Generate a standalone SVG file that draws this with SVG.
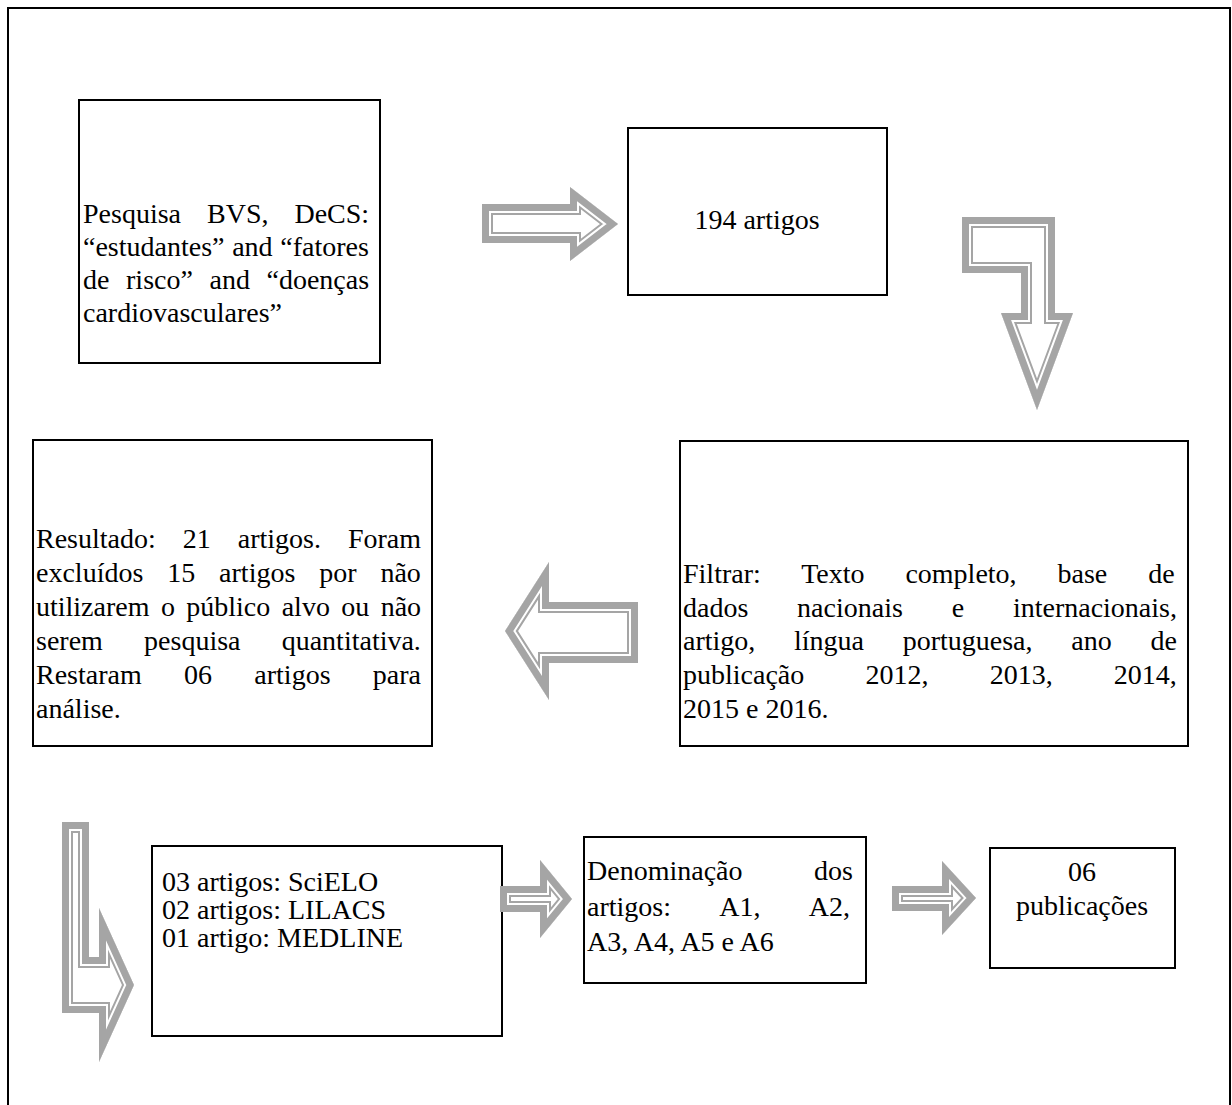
<svg xmlns="http://www.w3.org/2000/svg" xmlns:xlink="http://www.w3.org/1999/xlink" width="1232" height="1105" viewBox="0 0 1232 1105">
<style>
.box{fill:#fff;stroke:#000;stroke-width:2}
.t{font-family:"Liberation Serif","Times New Roman",serif;font-size:28px;fill:#000}
.c{text-anchor:middle}
.af{fill:#fff;stroke:#a5a5a5;stroke-width:22;stroke-linejoin:miter;stroke-miterlimit:20}
.am{fill:none;stroke:#fff;stroke-width:18;stroke-linejoin:miter;stroke-miterlimit:20}
.ao{fill:none;stroke:#a5a5a5;stroke-width:14;stroke-linejoin:miter;stroke-miterlimit:20}
</style>
<defs>
<polygon id="a1" points="482,204 570,204 570,187 618,224 570,261 570,243 482,243"/>
<polygon id="a2" points="962,217 1055,217 1055,313 1073,313 1037,410 1001,313 1021,313 1021,273 962,273"/>
<polygon id="a3" points="505,631 549,562 549,602 638,602 638,663 549,663 549,700"/>
<polygon id="a4" points="62,822 89,822 89,957 99,957 99,908 134,985 99,1062 99,1013 62,1013"/>
<polygon id="a5" points="500,886 540,886 540,860 572,899 540,938 540,912 500,912"/>
<polygon id="a6" points="892,886 942,886 942,861 976,898 942,935 942,911 892,911"/>
<clipPath id="c1"><use xlink:href="#a1"/></clipPath>
<clipPath id="c2"><use xlink:href="#a2"/></clipPath>
<clipPath id="c3"><use xlink:href="#a3"/></clipPath>
<clipPath id="c4"><use xlink:href="#a4"/></clipPath>
<clipPath id="c5"><use xlink:href="#a5"/></clipPath>
<clipPath id="c6"><use xlink:href="#a6"/></clipPath>
</defs>
<rect width="1232" height="1105" fill="#fff"/>
<path d="M8,1110 V8 H1230 V1110" fill="none" stroke="#000" stroke-width="2"/>

<g id="box1">
<rect class="box" x="79" y="100" width="301" height="263"/>
<text class="t" x="83" y="223" word-spacing="19">Pesquisa BVS, DeCS:</text>
<text class="t" x="83" y="256" word-spacing="0.7">“estudantes” and “fatores</text>
<text class="t" x="83" y="289" word-spacing="9.6">de risco” and “doenças</text>
<text class="t" x="83" y="322">cardiovasculares”</text>
</g>

<g id="box2">
<rect class="box" x="628" y="128" width="259" height="167"/>
<text class="t c" x="757" y="229">194 artigos</text>
</g>

<g id="box3">
<rect class="box" x="680" y="441" width="508" height="305"/>
<text class="t" x="683" y="583" word-spacing="33.9">Filtrar: Texto completo, base de</text>
<text class="t" x="683" y="617" word-spacing="41.8">dados nacionais e internacionais,</text>
<text class="t" x="683" y="650" word-spacing="31.7">artigo, língua portuguesa, ano de</text>
<text class="t" x="683" y="684" word-spacing="54.2">publicação 2012, 2013, 2014,</text>
<text class="t" x="683" y="718">2015 e 2016.</text>
</g>

<g id="box4">
<rect class="box" x="33" y="440" width="399" height="306"/>
<text class="t" x="36" y="548" word-spacing="20">Resultado: 21 artigos. Foram</text>
<text class="t" x="36" y="582" word-spacing="16.9">excluídos 15 artigos por não</text>
<text class="t" x="36" y="616" word-spacing="4.4">utilizarem o público alvo ou não</text>
<text class="t" x="36" y="650" word-spacing="34.2">serem pesquisa quantitativa.</text>
<text class="t" x="36" y="684" word-spacing="35.3">Restaram 06 artigos para</text>
<text class="t" x="36" y="718">análise.</text>
</g>

<g id="box5">
<rect class="box" x="152" y="846" width="350" height="190"/>
<text class="t" x="162" y="891">03 artigos: SciELO</text>
<text class="t" x="162" y="919">02 artigos: LILACS</text>
<text class="t" x="162" y="947">01 artigo: MEDLINE</text>
</g>

<g id="box6">
<rect class="box" x="584" y="837" width="282" height="146"/>
<text class="t" x="587" y="880" word-spacing="64.6">Denominação dos</text>
<text class="t" x="587" y="916" word-spacing="42.8">artigos: A1, A2,</text>
<text class="t" x="587" y="951">A3, A4, A5 e A6</text>
</g>

<g id="box7">
<rect class="box" x="990" y="848" width="185" height="120"/>
<text class="t c" x="1082" y="881">06</text>
<text class="t c" x="1082" y="915">publicações</text>
</g>

<g id="connectors">
<g clip-path="url(#c1)"><use xlink:href="#a1" class="af"/><use xlink:href="#a1" class="am"/><use xlink:href="#a1" class="ao"/></g>
<g clip-path="url(#c2)"><use xlink:href="#a2" class="af"/><use xlink:href="#a2" class="am"/><use xlink:href="#a2" class="ao"/></g>
<g clip-path="url(#c3)"><use xlink:href="#a3" class="af"/><use xlink:href="#a3" class="am"/><use xlink:href="#a3" class="ao"/></g>
<g clip-path="url(#c4)"><use xlink:href="#a4" class="af"/><use xlink:href="#a4" class="am"/><use xlink:href="#a4" class="ao"/></g>
<g clip-path="url(#c5)"><use xlink:href="#a5" class="af"/><use xlink:href="#a5" class="am"/><use xlink:href="#a5" class="ao"/></g>
<g clip-path="url(#c6)"><use xlink:href="#a6" class="af"/><use xlink:href="#a6" class="am"/><use xlink:href="#a6" class="ao"/></g>
</g>
</svg>
